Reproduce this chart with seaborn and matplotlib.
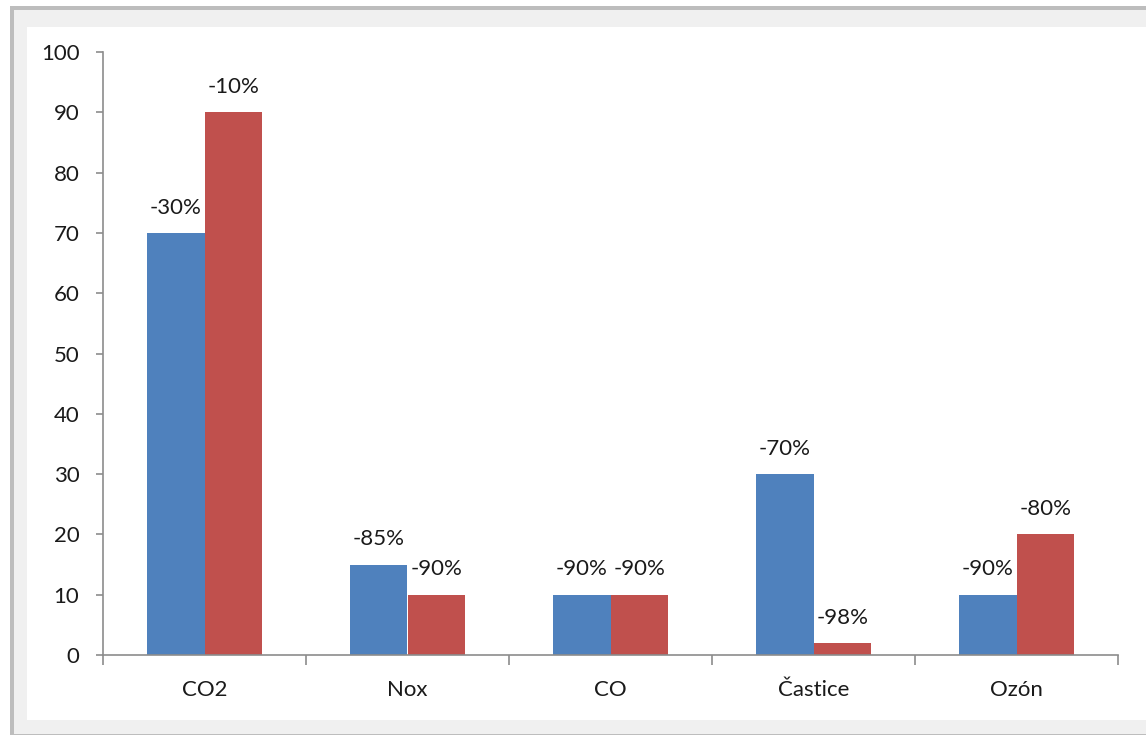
import matplotlib
matplotlib.use("Agg")
import matplotlib.pyplot as plt
from matplotlib.patches import Rectangle
import seaborn as sns
import pandas as pd

categories = ["CO2", "Nox", "CO", "Častice", "Ozón"]
series_a = [70, 15, 10, 30, 10]
series_b = [90, 10, 10, 2, 20]
labels_a = ["-30%", "-85%", "-90%", "-70%", "-90%"]
labels_b = ["-10%", "-90%", "-90%", "-98%", "-80%"]
y_ticks = [0, 10, 20, 30, 40, 50, 60, 70, 80, 90, 100]

sns.set_style("white")
plt.rcParams['font.family'] = ['Lato', 'DejaVu Sans']

W, H = 1146, 735
fig = plt.figure(figsize=(W / 100, H / 100), dpi=100)
fig.patch.set_facecolor("white")

def fr(x0, y0, x1, y1, color):
    fig.patches.append(Rectangle((x0 / W, 1 - y1 / H), (x1 - x0) / W, (y1 - y0) / H,
                                 transform=fig.transFigure, facecolor=color,
                                 edgecolor="none", zorder=-10))

fr(0, 0, W, H, "white")
fr(10, 6, W, 736, "#BDBDBD")
fr(14, 10, W, 734, "#F0F0F0")
fr(27, 27, W, 720, "white")

ax = fig.add_axes([103 / W, 1 - 655 / H, (1118 - 103) / W, (655 - 52) / H])
ax.set_facecolor("none")

df = pd.DataFrame({
    "cat": categories * 2,
    "val": series_a + series_b,
    "series": ["A"] * len(categories) + ["B"] * len(categories),
})
sns.barplot(data=df, x="cat", y="val", hue="series", palette=["#4F81BD", "#C0504D"],
            width=0.57, legend=False, ax=ax, saturation=1, linewidth=0)

FS = 16
for cont, labs in zip(ax.containers, [labels_a, labels_b]):
    ax.bar_label(cont, labels=labs, padding=11, fontsize=FS, color="#1a1a1a")

ax.set_xlim(-0.5, len(categories) - 0.5)
ax.set_ylim(0, 100)
ax.set_yticks(y_ticks)
ax.set_xlabel("")
ax.set_ylabel("")
for s in ["top", "right"]:
    ax.spines[s].set_visible(False)
for s in ["left", "bottom"]:
    ax.spines[s].set_color("#8C8C8C")
    ax.spines[s].set_linewidth(1.2)

ax.tick_params(axis="y", which="major", length=5, width=1.2, color="#8C8C8C",
               direction="out", left=True, labelsize=FS, pad=12, labelcolor="#1a1a1a")
ax.tick_params(axis="x", which="major", length=0, labelsize=FS, pad=18, labelcolor="#1a1a1a")
ax.set_xticks([i - 0.5 for i in range(len(categories) + 1)], minor=True)
ax.tick_params(axis="x", which="minor", length=7, width=1.2, color="#8C8C8C",
               direction="out", bottom=True)

fig.savefig("out.png", dpi=100, facecolor=fig.get_facecolor())
